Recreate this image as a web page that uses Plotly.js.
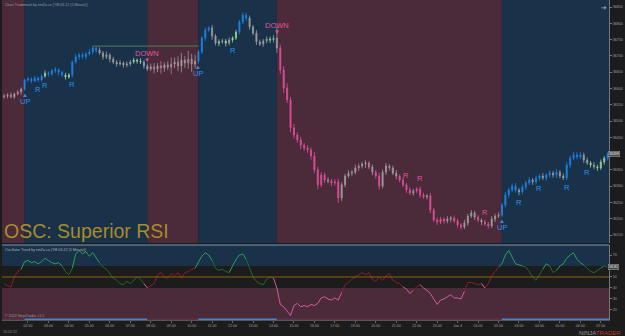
<!DOCTYPE html>
<html><head><meta charset="utf-8">
<script src="https://cdn.plot.ly/plotly-3.0.1.min.js"></script>
<style>html,body{margin:0;padding:0;background:#1c1c1c;overflow:hidden}#chart{width:625px;height:336px}</style>
</head><body><div id="chart"></div>
<script>
// ---- data (YM 03-22, 10-minute sampling of the 5-minute chart) ----
const timeLabels = ['02:00','03:00','04:00','05:00','06:00','07:00','08:00','09:00','10:00','11:00','12:00','13:00','14:00','15:00','16:00','17:00','19:00','20:00','21:00','22:00','23:00','Jan 4','01:00','02:00','03:00','04:00','05:00','06:00','07:00'];
const firstOpen = 36574;
const closes = [
36577,36580,36574,36583,36589,36598,
36626,36629,36623,36632,36626,36638,
36647,36644,36654,36657,36650,36641,36635,36641,
36681,36697,36703,36697,36706,36712,36724,36718,
36709,36697,36703,36690,36681,36675,36678,36672,36675,36681,
36687,36684,36681,36669,36660,36666,
36660,36669,36663,36672,36666,36675,36681,36669,36687,36678,36690,36675,36684,
36712,36755,36779,36786,
36761,36739,36743,36746,36739,36749,36755,36773,
36804,36825,36816,
36789,36770,36743,36736,36746,36752,36749,36755,
36724,
36657,36601,36565,36479,36457,36442,36426,36417,36411,36393,
36350,36304,36334,36319,36316,36310,36313,36264,
36304,36331,36340,36343,36356,36362,36368,36371,36359,36343,36331,36300,
36343,36362,36356,36340,36331,36319,36304,36288,36279,36285,36291,36273,36267,36270,
36227,36196,36190,36199,36193,36199,36202,36193,36181,36175,36187,
36208,36218,36205,36196,36190,36184,36178,36199,36208,36211,
36242,36273,36288,36300,36288,36282,36297,
36310,36319,36313,36325,36331,36325,36334,36340,36334,36343,36331,36325,
36365,36386,36396,36390,36396,36380,36371,36365,36359,36356,36374,36386,36399
];
const wickUp = [
6,5,8,4,6,5, 4,6,5,7,4,6, 8,5,6,9,5,4,7,6, 5,8,6,7,5,9,6,5,
8,6,10,5,7,6,9,5,8,6, 7,5,9,6,8,10, 12,9,15,8,11,20,14,18,22,12,25,16,19,
6,5,8,4, 9,6,8,7,6,8,5,7, 6,8,7, 8,6,9,7,6,8,7,9, 34,
10,12,15,9,12,8,10,7,9,8, 12,10,9,7,8,6,9,10, 8,7,9,6,10,8,7,9,6,8,7,10,
8,9,6,7,10,5,8,6,9,7,6,8,7,5, 9,6,8,7,5,9,6,8,7,6,10, 7,9,6,8,5,7,6,9,7,8,
6,9,7,8,10,6,8, 7,9,6,8,7,10,6,8,7,9,6,8, 9,7,10,8,9,7,8,6,9,7,8,6,5
];
const wickDn = [
5,7,4,6,5,8, 5,5,7,4,6,5, 6,8,5,7,9,6,8,5, 7,5,9,6,8,5,7,9,
6,9,7,10,6,8,5,9,7,6, 5,8,6,9,7,6, 14,10,18,12,9,22,13,16,20,15,18,24,14,
8,6,9,5, 12,7,9,6,10,7,8,6, 7,6,9, 9,7,10,6,8,7,9,8, 15,
12,15,10,14,11,9,13,8,10,12, 10,14,8,9,7,10,8,16, 9,8,6,10,7,9,8,12,7,9,8,11,
7,9,8,6,10,8,7,9,6,8,7,9,6,8, 10,7,9,6,8,7,10,6,9,8,7, 8,6,9,7,10,6,8,7,9,6,
5,7,9,6,8,10,7, 8,6,9,7,8,6,9,7,8,10,7,6, 7,9,6,8,7,9,6,8,7,9,6,8,7
];
// bar trend colouring codes: U up, D down, G neutral grey, L light green, P faded pink
const trendCodes = ["PGPGPG","UUUUUU","LUUUUULL","UUUUUUUU","GGGGGGGGGG","LLLGGG","PGPGGPGPGGPGG","UUUU","GGLGLGLL","UUU","GGGGGGLG","G","DDDDDDDDDD","DDDDGDDD","GGGGGPGGPGDD","GGPGGDDDDGDDDG","DDDDDGGDDDG","GGGDGDDGGG","UUUUUGU","UUGUUGUUGUGG","UUUUUGGLGLLLU"];
const oscValues = [
44,42,41,50,55,57, 64,65,63,64,62,64, 67,65,63,62,63,60,55,52, 58,71,74,71,73,69,72,68,
63,59,57,53,49,47,44,43,46,44, 47,50,48,44,40,42, 44,52,54,50,49,53,51,54,49,54,55,57,58,
64,69,72,70, 65,58,56,57,55,54,60,66, 70,71,66, 58,50,46,44,43,48,50,49, 40,
25,23,19,15,24,26,23,24,23,25, 24,26,31,32,30,29,31,29, 36,43,45,48,50,52,54,52,54,48,46,50,
47,51,53,47,45,44,41,39,35,38,41,43,40,38, 35,30,25,29,30,32,34,31,31,30,37, 45,45,44,43,44,40,44,51,55,59,
62,70,74,68,62,61,60, 59,55,50,47,52,57,62,60,54,56,60,62, 67,70,72,66,63,61,58,55,54,56,58,60,58.81
];
const signalBars  = [6,   10, 12, 20, 42,    57,  67, 80,    118, 122, 141, 146, 151, 157, 165, 171];
const signalTypes = ['UP','R','R','R','DOWN','UP','R','DOWN','R', 'R', 'R', 'UP','R', 'R', 'R', 'R'];
const priceTicks = [36150,36200,36250,36300,36350,36400,36450,36500,36550,36600,36650,36700,36750,36800,36850];
const oscTicks = [20,30,40,50,60,70];
const oscUpper = 60, oscLower = 40, oscMid = 50;

// ---- build ----
const codes = trendCodes.join('').split('');
const n = Math.min(closes.length, wickUp.length, wickDn.length, codes.length, oscValues.length);
const bars = Array.from({length:n}, (_, i) => i);
const opens = bars.map(i => i === 0 ? firstOpen : closes[i-1]);
const highs = bars.map(i => Math.max(opens[i], closes[i]) + wickUp[i]);
const lows  = bars.map(i => Math.min(opens[i], closes[i]) - wickDn[i]);
const xMin = -0.62, xMax = 177.4;
const lastClose = closes[n-1], lastOsc = oscValues[n-1];

const candleColors = {U:'#1e82e6', D:'#dc4f98', G:'#9c9c9c', L:'#9fcf98', P:'#b7838f'};
const traces = [];
Object.keys(candleColors).forEach(code => {
  const idx = bars.filter(i => codes[i] === code);
  if (!idx.length) return;
  const col = candleColors[code];
  traces.push({type:'candlestick', xaxis:'x', yaxis:'y', x: idx,
    open: idx.map(i => opens[i]), high: idx.map(i => highs[i]), low: idx.map(i => lows[i]), close: idx.map(i => closes[i]),
    increasing:{line:{color:col, width:0.8}, fillcolor:col}, decreasing:{line:{color:col, width:0.8}, fillcolor:col},
    whiskerwidth:0, hoverinfo:'skip', showlegend:false});
});

// oscillator segments
let st = 'down';
const oscKey = bars.map(i => {
  const v = oscValues[i];
  if (v >= oscUpper) { st = 'up'; return 'hi'; }
  if (v <= oscLower) { st = 'down'; return 'lo'; }
  return st === 'up' ? 'nu' : 'nd';
});
const oscColors = {hi:'#2f9e58', nu:'#1d6a30', nd:'#8e1c2c', lo:'#d25c9c'};
Object.keys(oscColors).forEach(key => {
  const y = bars.map(i => (oscKey[i] === key || oscKey[i+1] === key) ? oscValues[i] : null);
  traces.push({type:'scatter', mode:'lines', x: bars, y, xaxis:'x', yaxis:'y2',
    line:{color:oscColors[key], width:1}, connectgaps:false, hoverinfo:'skip', showlegend:false});
});

// trend zones
const flips = signalBars.map((b, i) => ({b, t: signalTypes[i]})).filter(s => s.t !== 'R');
const zones = [];
let zStart = xMin, zState = 'down';
flips.forEach(f => { zones.push({x0:zStart, x1:f.b, s:zState}); zStart = f.b; zState = f.t === 'UP' ? 'up' : 'down'; });
zones.push({x0:zStart, x1:xMax, s:zState});

const BLUE = '#19324a', PINK = '#4b2a3a';
const shapes = [];
zones.forEach(z => {
  shapes.push({type:'rect', xref:'x', yref:'y domain', x0:z.x0, x1:z.x1, y0:0, y1:1, fillcolor: z.s === 'up' ? BLUE : PINK, line:{width:0}, layer:'below'});
  shapes.push({type:'line', xref:'x', yref:'y2 domain', x0:z.x0, x1:z.x1, y0:0.01, y1:0.01, line:{color: z.s === 'up' ? '#4e84bd' : '#5a3248', width:1.5}});
});
shapes.push({type:'rect', xref:'paper', yref:'y2', x0:0, x1:1, y0:oscUpper, y1:79.1, fillcolor:BLUE, line:{width:0}, layer:'below'});
shapes.push({type:'rect', xref:'paper', yref:'y2', x0:0, x1:1, y0:10.9, y1:oscLower, fillcolor:PINK, line:{width:0}, layer:'below'});
shapes.push({type:'line', xref:'paper', yref:'y2', x0:0, x1:1, y0:oscMid, y1:oscMid, line:{color:'#8a6416', width:1}});
shapes.push({type:'line', xref:'paper', yref:'y2 domain', x0:0, x1:1, y0:1, y1:1, line:{color:'#7d9ab6', width:1}});
shapes.push({type:'line', xref:'x', yref:'y', x0:26, x1:57, y0:highs[26], y1:highs[26], line:{color:'#4f7f52', width:1}});

const BLUE_T = '#2f8fe8', PINK_T = '#e0559e';
const annotations = [];
const tf = (s, c) => ({family:'"Liberation Sans", Arial, sans-serif', size:s, color:c});
signalBars.forEach((b, i) => {
  const t = signalTypes[i];
  const zone = zones.find(z => b >= z.x0 && b < z.x1) || zones[zones.length-1];
  const up = t === 'UP' || (t === 'R' && zone.s === 'up');
  const col = up ? BLUE_T : PINK_T;
  if (t === 'UP') {
    const y = Math.min(opens[b], closes[b]);
    annotations.push({x:b, y, xref:'x', yref:'y', text:'▲', showarrow:false, yanchor:'top', yshift:-1, font:tf(6, col)});
    annotations.push({x:b, y, xref:'x', yref:'y', text:'UP', showarrow:false, yanchor:'top', yshift:-6, font:tf(7.5, col)});
  } else if (t === 'DOWN') {
    const y = Math.max(opens[b], closes[b]);
    annotations.push({x:b, y, xref:'x', yref:'y', text:'▼', showarrow:false, yanchor:'bottom', yshift:1, font:tf(6, col)});
    annotations.push({x:b, y, xref:'x', yref:'y', text:'DOWN', showarrow:false, yanchor:'bottom', yshift:6, font:tf(7.5, col)});
  } else if (up) {
    annotations.push({x:b, y:lows[b], xref:'x', yref:'y', text:'R', showarrow:false, yanchor:'top', yshift:-1, font:tf(7.5, col)});
  } else {
    annotations.push({x:b, y:highs[b], xref:'x', yref:'y', text:'R', showarrow:false, yanchor:'bottom', yshift:1, font:tf(7.5, col)});
  }
});
annotations.push({xref:'paper', yref:'paper', x:0, y:1, xanchor:'left', yanchor:'top', xshift:1, yshift:-1, showarrow:false, text:'Chart Trademark by ninZa.co (YM 03-22 (5 Minute))', font:tf(3.6,'#9a9a9a')});
annotations.push({xref:'paper', yref:'paper', x:0, y:0.2344, xanchor:'left', yanchor:'top', xshift:1, yshift:-1, showarrow:false, text:'Oscillator Trend by ninZa.co (YM 03-22 (5 Minute))', font:tf(3.6,'#b0b0b0')});
annotations.push({xref:'paper', yref:'paper', x:0, y:0.0125, xanchor:'left', yanchor:'middle', xshift:1, showarrow:false, text:'© 2022 NinjaTrader, LLC', font:tf(3.6,'#9a9a9a')});
annotations.push({xref:'paper', yref:'paper', x:0, y:0.278, xanchor:'left', yanchor:'middle', xshift:0, showarrow:false, text:'OSC: Superior RSI', font:tf(19.5,'#a68c2a')});
annotations.push({xref:'paper', yref:'paper', x:0, y:-0.0375, xanchor:'left', yanchor:'middle', xshift:-1, showarrow:false, text:'16:02:22', font:tf(3.6,'#8a8a8a')});
annotations.push({xref:'paper', yref:'paper', x:1, y:-0.04, xanchor:'right', yanchor:'middle', xshift:14, showarrow:false, text:'<span style="color:#9a9a9a">NINJA</span><span style="color:#c0392b">TRADER</span>', font:tf(6,'#9a9a9a')});
annotations.push({xref:'paper', yref:'paper', x:0.992, y:0.978, xanchor:'center', yanchor:'middle', showarrow:false, text:'➜', font:tf(7,'#8fa6b8')});
annotations.push({xref:'paper', yref:'y', x:1, y:lastClose, xanchor:'left', yanchor:'middle', xshift:-1, showarrow:false, text:String(lastClose), bgcolor:'#4e4e4e', bordercolor:'#9a9a9a', borderwidth:0.5, borderpad:0.5, font:tf(3.6,'#e8e8e8')});
annotations.push({xref:'paper', yref:'y2', x:1, y:lastOsc, xanchor:'left', yanchor:'middle', xshift:-1, showarrow:false, text:lastOsc.toFixed(2), bgcolor:'#4e4e4e', bordercolor:'#9a9a9a', borderwidth:0.5, borderpad:0.5, font:tf(3.6,'#e8e8e8')});

// tick labels hidden behind the last-value boxes (as in the reference)
const priceTickText = priceTicks.map(v => Math.abs(v - lastClose) < 12 ? '' : String(v));
const oscTickText = oscTicks.map(v => Math.abs(v - lastOsc) < 3 ? '' : String(v));

const layout = {
  width:625, height:336,
  margin:{l:2, r:16, t:0, b:16, pad:0},
  paper_bgcolor:'#1c1c1c', plot_bgcolor:'#1c1c1c',
  showlegend:false, boxgap:0.55,
  font:{family:'"Liberation Sans", Arial, sans-serif', color:'#a0a0a0', size:4},
  xaxis:{range:[xMin, xMax], anchor:'y2', tickmode:'array', tickvals: timeLabels.map((_, j) => 7 + 6*j), ticktext: timeLabels,
    tickfont:tf(3.6,'#a0a0a0'), ticks:'outside', ticklen:2, tickcolor:'#666', showgrid:false, zeroline:false,
    showline:true, linecolor:'#555', rangeslider:{visible:false}, fixedrange:true},
  yaxis:{domain:[0.2406, 1], range:[36125.5, 36871.5], side:'right', anchor:'x', tickmode:'array', tickvals:priceTicks,
    ticktext: priceTickText, tickfont:tf(3.6,'#a0a0a0'), ticks:'outside', ticklen:2, tickcolor:'#777',
    showline:true, linecolor:'#777', showgrid:false, zeroline:false, fixedrange:true},
  yaxis2:{domain:[0, 0.2344], range:[10.9, 79.1], side:'right', anchor:'x', tickmode:'array', tickvals:oscTicks,
    ticktext: oscTickText, tickfont:tf(3.6,'#a0a0a0'), ticks:'outside', ticklen:2, tickcolor:'#777',
    showline:true, linecolor:'#777', showgrid:false, zeroline:false, fixedrange:true},
  shapes, annotations
};
Plotly.newPlot('chart', traces, layout, {displayModeBar:false, staticPlot:true});
</script></body></html>
